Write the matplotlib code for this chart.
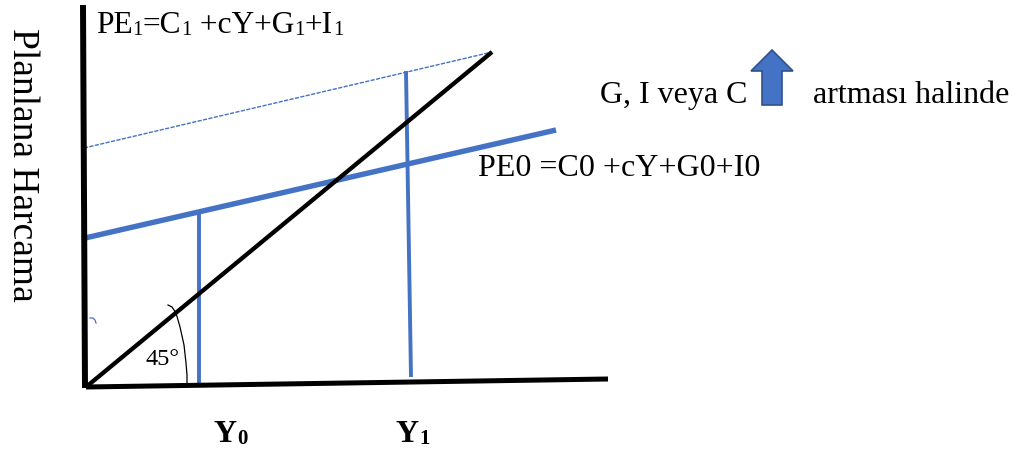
"""
Keynesian cross: planned expenditure lines against the 45 degree line.
"""

import matplotlib
matplotlib.use("Agg")
import matplotlib.pyplot as plt
from matplotlib.patches import Polygon

BLUE = "#4472c4"
DARK_BLUE = "#2f528f"

# line end points (pixels, y downwards)
y_axis_x = [83, 85]
y_axis_y = [5, 388]
x_axis_x = [86, 608]
x_axis_y = [387, 379]
line45_x = [86, 492]
line45_y = [387, 52]
pe0_x = [85, 556]
pe0_y = [238, 130]
pe1_x = [84, 492]
pe1_y = [148, 52]
y0_x = [199, 199]
y0_y = [212, 386]
y1_x = [406, 411]
y1_y = [71, 377]

angle_x = [168, 172, 176, 180, 184, 186, 187, 187]
angle_y = [305, 307, 313, 327, 345, 363, 375, 385]
stray_x = [90, 93, 95, 96]
stray_y = [318, 318, 320, 323]

arrow_x = [772, 793, 782, 782, 762, 762, 751]
arrow_y = [50, 71, 71, 105, 105, 71, 71]

pe1_runs = [("PE", 22.6), ("1", 15), ("=C", 22.6), ("1", 15), (" +cY+G", 22.6),
            ("1", 15), ("+I", 22.6), ("1", 15)]

plt.rcParams["font.family"] = ["Liberation Serif", "DejaVu Serif"]

fig = plt.figure(figsize=(10.13, 4.5), dpi=100)
ax = fig.add_axes([0, 0, 1, 1])
ax.set_xlim(0, 1013)
ax.set_ylim(450, 0)
ax.axis("off")


def draw_runs(x, y, runs, **kw):
    # text runs side by side, the small digits sit a little under the baseline
    rend = fig.canvas.get_renderer()
    for s, size in runs:
        drop = 2 if size < 20 else 0
        t = ax.text(x, y + drop, s.replace(" ", "\u00a0"), fontsize=size,
                    va="baseline", ha="left", **kw)
        x += t.get_window_extent(rend).width


ax.plot(pe1_x, pe1_y, color=BLUE, lw=1, ls=(0, (3, 1)))
ax.plot(pe0_x, pe0_y, color=BLUE, lw=3.9, solid_capstyle="butt")
ax.plot(y0_x, y0_y, color=BLUE, lw=2.8, solid_capstyle="butt")
ax.plot(y1_x, y1_y, color=BLUE, lw=2.8, solid_capstyle="butt")
ax.plot(line45_x, line45_y, color="black", lw=3.1, solid_capstyle="butt")
ax.plot(y_axis_x, y_axis_y, color="black", lw=4.3, solid_capstyle="butt")
ax.plot(x_axis_x, x_axis_y, color="black", lw=3.6, solid_capstyle="butt")

# angle mark and the small stray tick next to the axis
ax.plot(angle_x, angle_y, color="black", lw=0.9)
ax.plot(stray_x, stray_y, color=BLUE, lw=0.9)

ax.add_patch(Polygon(list(zip(arrow_x, arrow_y)), closed=True,
                     facecolor=BLUE, edgecolor=DARK_BLUE, lw=1.2))

draw_runs(96, 33, pe1_runs)
ax.text(478, 176, "PE0 =C0 +cY+G0+I0", fontsize=23, va="baseline", ha="left")
ax.text(600, 103, "G, I veya C", fontsize=23, va="baseline", ha="left")
ax.text(813, 103, "artması halinde", fontsize=23, va="baseline", ha="left")
ax.text(162, 365, "45°", fontsize=17.5, va="baseline", ha="center")
ax.text(22, 165, "Planlana Harcama", fontsize=27, rotation=270, va="center", ha="center")
draw_runs(214, 442, [("Y", 23), ("0", 15)], fontweight="bold")
draw_runs(396, 442, [("Y", 23), ("1", 15)], fontweight="bold")

fig.savefig("out.png", dpi=100)
plt.close(fig)
